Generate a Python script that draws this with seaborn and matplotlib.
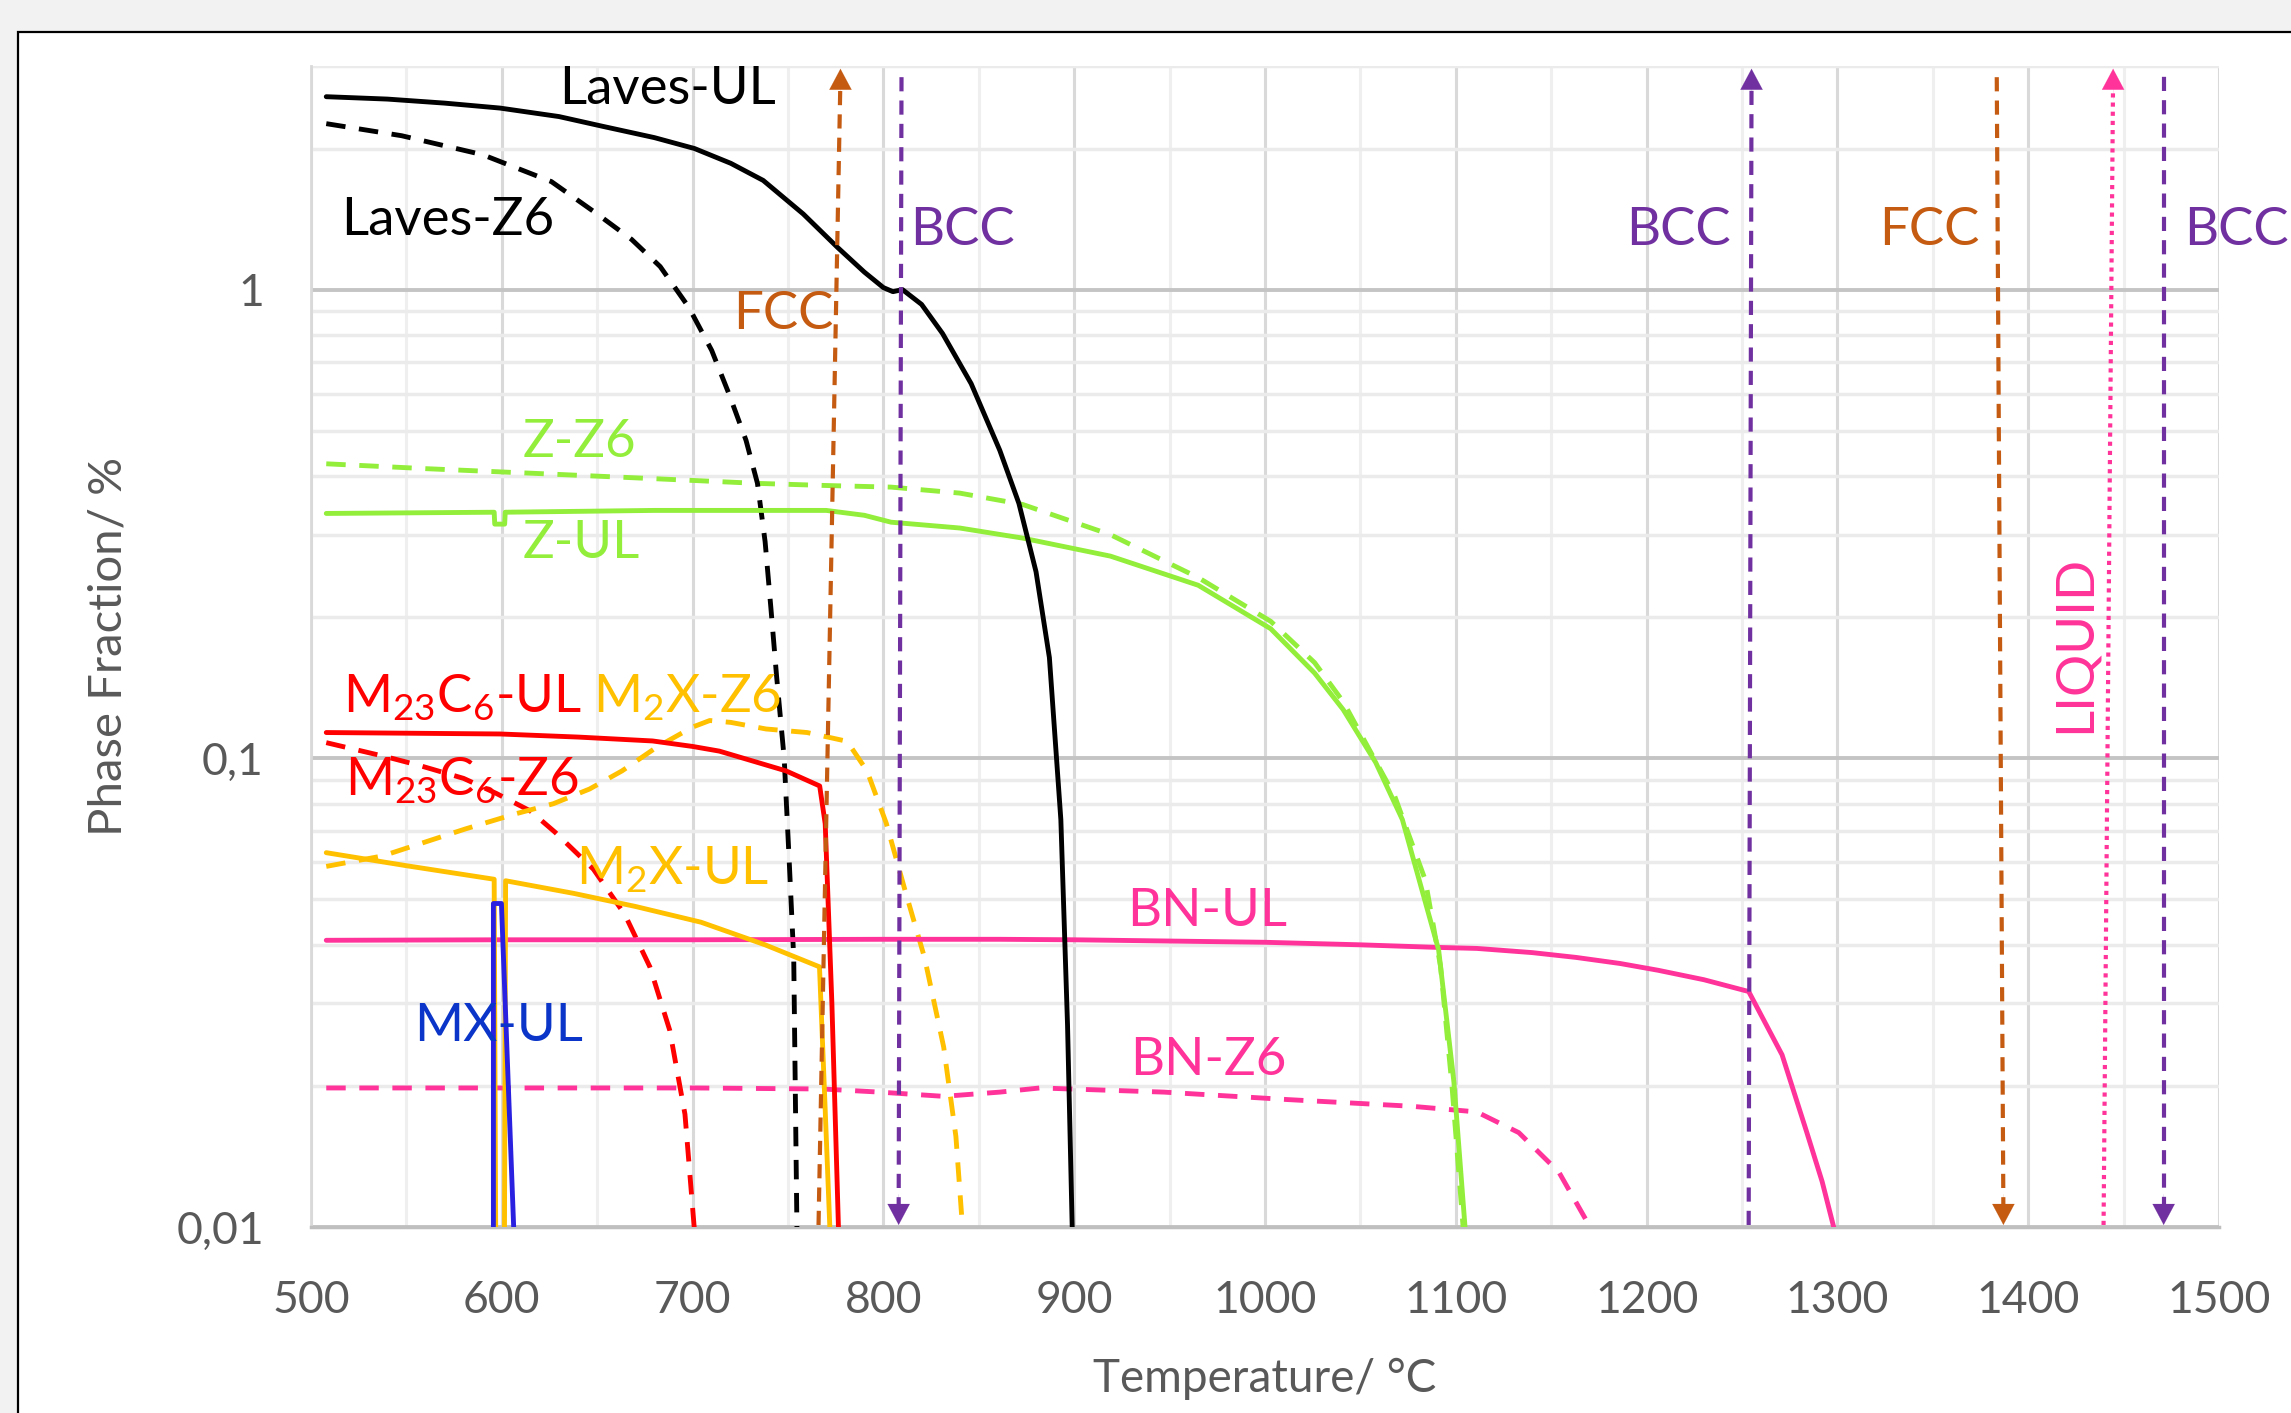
import matplotlib
matplotlib.use("Agg")
import matplotlib.pyplot as plt
import seaborn as sns
from matplotlib.patches import Rectangle
from matplotlib.ticker import FixedLocator, FuncFormatter, NullFormatter

# ---------------- data (temperature in °C, phase fraction in %) ----------------
laves_ul_T = [508, 540, 570, 599, 630, 653, 680, 701, 720, 737, 758, 776, 790, 800, 805, 810, 820, 831, 846, 861, 871, 880, 887, 893, 896.5, 899]
laves_ul_V = [2.58, 2.55, 2.50, 2.44, 2.34, 2.23, 2.11, 2.0, 1.86, 1.71, 1.45, 1.23, 1.09, 1.01, 0.99, 1.0, 0.93, 0.806, 0.63, 0.454, 0.35, 0.25, 0.164, 0.074, 0.027, 0.0098]

laves_z6_T = [508, 547.5, 590, 626, 650, 668, 683, 698, 710, 719, 728, 734, 738, 741, 744, 748, 750.5, 753, 754.7]
laves_z6_V = [2.26, 2.13, 1.94, 1.70, 1.45, 1.28, 1.12, 0.917, 0.742, 0.60, 0.477, 0.386, 0.29, 0.21, 0.15, 0.10, 0.062, 0.0375, 0.0098]

z_z6_T = [508, 560, 620, 680, 734, 770, 804, 840, 873, 919, 965, 1003, 1026, 1041, 1068, 1084, 1092, 1098, 1104]
z_z6_V = [0.425, 0.415, 0.405, 0.395, 0.386, 0.382, 0.379, 0.368, 0.348, 0.30, 0.243, 0.196, 0.16, 0.132, 0.083, 0.055, 0.036, 0.02, 0.0098]

z_ul_T = [508, 596, 596.3, 601.5, 601.8, 680, 770, 790, 804, 840, 873, 919, 965, 1003, 1026, 1041, 1058, 1072, 1091, 1099, 1105]
z_ul_V = [0.333, 0.335, 0.316, 0.316, 0.335, 0.338, 0.338, 0.33, 0.319, 0.31, 0.295, 0.27, 0.234, 0.189, 0.152, 0.127, 0.098, 0.074, 0.039, 0.0204, 0.0098]

m23c6_ul_T = [508, 599, 640, 679, 700, 714, 749, 766.6, 769.5, 773, 776.5]
m23c6_ul_V = [0.1135, 0.1127, 0.111, 0.1089, 0.106, 0.1036, 0.094, 0.0873, 0.0725, 0.030, 0.0098]

m23c6_z6_T = [508, 540, 557, 580, 597, 615, 628, 648, 664.5, 677.6, 688, 696, 701]
m23c6_z6_V = [0.108, 0.1006, 0.0965, 0.0906, 0.0842, 0.0772, 0.0695, 0.058, 0.0464, 0.0359, 0.0263, 0.0174, 0.0098]

m2x_z6_T = [508, 537.5, 581, 607.6, 627, 646, 663, 681, 700, 709, 720, 738.5, 760, 781, 791.4, 801.5, 811.5, 821.6, 831.6, 838, 841.6]
m2x_z6_V = [0.0588, 0.0619, 0.0707, 0.0762, 0.080, 0.086, 0.094, 0.1055, 0.1166, 0.1204, 0.1193, 0.1155, 0.1135, 0.1087, 0.094, 0.0727, 0.052, 0.0375, 0.0242, 0.0156, 0.0098]

m2x_ul_T = [508, 550, 596, 596.8, 601.4, 602, 637.7, 670, 704.4, 738, 766.5, 769, 772]
m2x_ul_V = [0.0629, 0.059, 0.0552, 0.0098, 0.0098, 0.0548, 0.0515, 0.0483, 0.0447, 0.040, 0.0359, 0.02, 0.0098]

mx_ul_T = [595.6, 595.6, 599.8, 606.3]
mx_ul_V = [0.0098, 0.049, 0.049, 0.0098]

bn_ul_T = [508, 600, 700, 800, 861, 900, 1000, 1050, 1090, 1111, 1140, 1163, 1186, 1206, 1230, 1253.5, 1271, 1284, 1292, 1298.6]
bn_ul_V = [0.0409, 0.041, 0.041, 0.0411, 0.0411, 0.041, 0.0405, 0.040, 0.0395, 0.0393, 0.0385, 0.0376, 0.0365, 0.0353, 0.0337, 0.0318, 0.0233, 0.0159, 0.0125, 0.0098]

bn_z6_T = [508, 600, 700, 768, 798, 831.6, 861, 882, 947, 1012, 1076.6, 1111, 1133, 1154, 1171.6]
bn_z6_V = [0.0198, 0.0198, 0.0198, 0.0197, 0.0194, 0.019, 0.0194, 0.0198, 0.0194, 0.0187, 0.0181, 0.0176, 0.0159, 0.0131, 0.0098]

# phase boundaries: (T at bottom, T at top), arrow direction
boundary_names = ["FCC", "BCC", "BCC", "FCC", "LIQUID", "BCC"]
boundary_T_bottom = [766, 808, 1253.5, 1387, 1439.5, 1471]
boundary_T_top = [777.5, 809.5, 1255, 1383.5, 1444.5, 1471]
boundary_arrow = ["up", "down", "up", "down", "up", "down"]

x_ticks = [500, 600, 700, 800, 900, 1000, 1100, 1200, 1300, 1400, 1500]
y_ticks = [0.01, 0.1, 1]
y_tick_labels = ["0,01", "0,1", "1"]

# ---------------- style ----------------
sns.set_style("white")
plt.rcParams["font.family"] = ["Lato", "DejaVu Sans"]
plt.rcParams["mathtext.fontset"] = "custom"
plt.rcParams["mathtext.rm"] = "Lato"
plt.rcParams["mathtext.it"] = "Lato:italic"
plt.rcParams["mathtext.bf"] = "Lato:bold"
plt.rcParams["mathtext.default"] = "regular"

BLACK = "#000000"
GREEN = "#92ee3a"
RED = "#ff0000"
GOLD = "#ffc000"
BLUE = "#2a20e0"
PINK = "#ff3399"
ORANGE = "#c55a11"
PURPLE = "#7030a0"
TXT = "#595959"

W, H = 2291, 1413
fig = plt.figure(figsize=(W / 100, H / 100), dpi=100)
fig.patch.set_facecolor("#f2f2f2")
fig.patches.append(Rectangle((18 / W, -0.1), 2.0, (H - 32) / H + 0.1, transform=fig.transFigure,
                             facecolor="white", edgecolor="black", lw=1.6, zorder=-1))

ax = fig.add_axes([311 / W, 186 / H, 1908 / W, 1161 / H])
ax.set_facecolor("white")
ax.set_yscale("log")
ax.set_xlim(500, 1500)
ax.set_ylim(0.01, 3.0)

DASH = (0, (4.0, 2.8))
curves = [
    (m23c6_z6_T, m23c6_z6_V, RED, DASH),
    (m2x_z6_T, m2x_z6_V, GOLD, DASH),
    (z_z6_T, z_z6_V, GREEN, DASH),
    (laves_z6_T, laves_z6_V, BLACK, DASH),
    (bn_z6_T, bn_z6_V, PINK, DASH),
    (bn_ul_T, bn_ul_V, PINK, "-"),
    (z_ul_T, z_ul_V, GREEN, "-"),
    (m2x_ul_T, m2x_ul_V, GOLD, "-"),
    (m23c6_ul_T, m23c6_ul_V, RED, "-"),
    (laves_ul_T, laves_ul_V, BLACK, "-"),
    (mx_ul_T, mx_ul_V, BLUE, "-"),
]
for T, V, col, ls in curves:
    sns.lineplot(x=T, y=V, ax=ax, color=col, linestyle=ls, lw=3.5, sort=False,
                 estimator=None, legend=False, zorder=3)

y_top_tip, y_bot_tip = 2.96, 0.0101
for name, tb, tt, d in zip(boundary_names, boundary_T_bottom, boundary_T_top, boundary_arrow):
    if name == "FCC":
        col, ls = ORANGE, (0, (3.4, 2.2))
    elif name == "BCC":
        col, ls = PURPLE, (0, (3.4, 2.2))
    else:
        col, ls = PINK, (0, (1.0, 1.2))
    y0 = 0.0101 if d == "up" else 0.0108
    y1 = 2.85 if d == "up" else 2.95
    sns.lineplot(x=[tb, tt], y=[y0, y1], ax=ax, color=col, linestyle=ls, lw=3.0,
                 sort=False, estimator=None, legend=False, zorder=4)
    if d == "up":
        ax.annotate("", xy=(tt, y_top_tip), xytext=(0, -22), textcoords="offset points",
                    arrowprops=dict(arrowstyle="-|>,head_length=0.75,head_width=0.4",
                                    mutation_scale=20, color=col, lw=0.1, shrinkA=0, shrinkB=0),
                    zorder=5)
    else:
        ax.annotate("", xy=(tb, y_bot_tip), xytext=(0, 22), textcoords="offset points",
                    arrowprops=dict(arrowstyle="-|>,head_length=0.75,head_width=0.4",
                                    mutation_scale=20, color=col, lw=0.1, shrinkA=0, shrinkB=0),
                    zorder=5)

# ---------------- text labels ----------------
labels = [
    ("Laves-UL", 630, 2.495, BLACK),
    ("Laves-Z6", 516, 1.306, BLACK),
    ("FCC", 721, 0.825, ORANGE),
    ("BCC", 814, 1.243, PURPLE),
    ("BCC", 1189.5, 1.243, PURPLE),
    ("FCC", 1322, 1.243, ORANGE),
    ("BCC", 1481.5, 1.243, PURPLE),
    ("Z-Z6", 611, 0.439, GREEN),
    ("Z-UL", 611, 0.268, GREEN),
    ("M$_{23}$C$_{6}$-UL", 517, 0.1253, RED),
    ("M$_{2}$X-Z6", 648, 0.1253, GOLD),
    ("M$_{23}$C$_{6}$-Z6", 518, 0.0832, RED),
    ("M$_{2}$X-UL", 639, 0.0538, GOLD),
    ("MX-UL", 554, 0.0249, "#0a35c8"),
    ("BN-UL", 927.5, 0.0439, PINK),
    ("BN-Z6", 929.5, 0.0211, PINK),
]
for txt, tx, ty, col in labels:
    ax.text(tx, ty, txt, color=col, fontsize=38, ha="left", va="baseline", zorder=6, clip_on=False)
ax.text(1424.4, 0.1752, "LIQUID", color=PINK, fontsize=38, rotation=90, ha="center", va="center", zorder=6)

# ---------------- axes ----------------
ax.xaxis.set_major_locator(FixedLocator(x_ticks))
ax.xaxis.set_minor_locator(FixedLocator([t + 50 for t in x_ticks[:-1]]))
ax.yaxis.set_major_locator(FixedLocator(y_ticks))
minor_y = [m * 10.0 ** e for e in (-2, -1) for m in range(2, 10)] + [2.0, 3.0]
ax.yaxis.set_minor_locator(FixedLocator(minor_y))
ax.yaxis.set_major_formatter(FuncFormatter(lambda v, p: y_tick_labels[y_ticks.index(min(y_ticks, key=lambda t: abs(t - v)))]))
ax.yaxis.set_minor_formatter(NullFormatter())
ax.xaxis.set_minor_formatter(NullFormatter())

ax.set_axisbelow(True)
ax.grid(True, which="major", axis="x", color="#d9d9d9", lw=2.2)
ax.grid(True, which="minor", axis="x", color="#efefef", lw=2.2)
ax.grid(True, which="major", axis="y", color="#c4c4c4", lw=2.8)
ax.grid(True, which="minor", axis="y", color="#ebebeb", lw=2.5)

ax.tick_params(axis="both", which="both", length=0, labelsize=32, labelcolor=TXT)
ax.tick_params(axis="x", pad=38)
ax.tick_params(axis="y", pad=34)
for s in ("top", "right"):
    ax.spines[s].set_visible(False)
ax.spines["left"].set_color("#d9d9d9")
ax.spines["left"].set_linewidth(2)
ax.spines["bottom"].set_color("#bfbfbf")
ax.spines["bottom"].set_linewidth(2.5)

ax.set_xlabel("Temperature/ °C", fontsize=33, color=TXT)
ax.set_ylabel("Phase Fraction/ %", fontsize=34, color=TXT)
ax.xaxis.set_label_coords(0.5, -0.113)
ax.yaxis.set_label_coords(-0.095, 0.5)

fig.savefig("out.png", dpi=100, facecolor=fig.get_facecolor())
